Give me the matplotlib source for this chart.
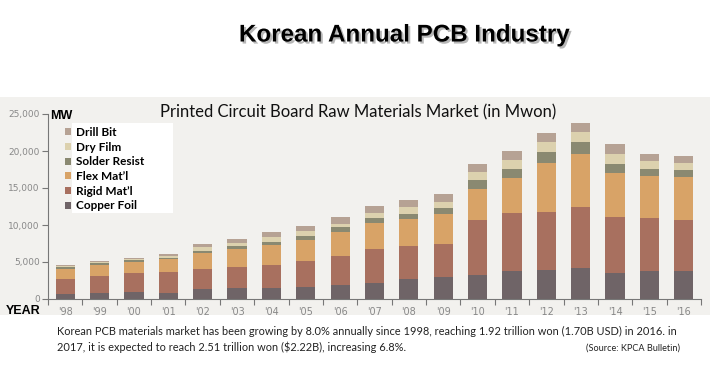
import matplotlib
matplotlib.use("Agg")
import matplotlib.pyplot as plt
import matplotlib.patheffects as pe
from matplotlib.patches import Rectangle, Patch
from matplotlib.ticker import FuncFormatter, FixedLocator
import numpy as np

years = ["'98", "'99", "'00", "'01", "'02", "'03", "'04", "'05", "'06", "'07",
         "'08", "'09", "'10", "'11", "'12", "'13", "'14", "'15", "'16"]
copper_foil = [680, 770, 910, 860, 1310, 1500, 1500, 1630, 1900, 2220, 2720, 3040, 3220, 3720, 3940, 4170, 3580, 3810, 3810]
rigid_mat = [2080, 2400, 2580, 2850, 2720, 2760, 3080, 3530, 3940, 4530, 4390, 4440, 7520, 7840, 7840, 8200, 7520, 7070, 6930]
flex_mat = [1270, 1400, 1450, 1630, 2170, 2490, 2720, 2850, 3260, 3530, 3760, 3940, 4170, 4760, 6660, 7290, 5980, 5750, 5710]
solder_resist = [230, 230, 270, 230, 320, 360, 450, 540, 590, 680, 680, 820, 1130, 1220, 1450, 1500, 1220, 1000, 950]
dry_film = [180, 180, 180, 230, 450, 450, 680, 680, 500, 680, 910, 910, 1130, 1270, 1270, 1360, 1360, 1040, 950]
drill_bit = [180, 180, 180, 270, 450, 590, 590, 680, 910, 910, 910, 1040, 1130, 1220, 1270, 1220, 1220, 950, 1000]

series_names = ["Copper Foil", "Rigid Mat\u2019l", "Flex Mat\u2019l", "Solder Resist", "Dry Film", "Drill Bit"]
series_vals = [copper_foil, rigid_mat, flex_mat, solder_resist, dry_film, drill_bit]
colors = ["#6f6467", "#a8705f", "#d8a367", "#8a8971", "#dcd1ae", "#b6a294"]

W, H = 710, 387
fig = plt.figure(figsize=(W / 100, H / 100), dpi=100)
fig.patch.set_facecolor("white")

def fx(px):
    return px / W

def fy(py):
    return 1 - py / H

# scanned panel background
fig.patches.append(Rectangle((0, fy(315)), 1, (315 - 97) / H, transform=fig.transFigure,
                             facecolor="#f2f1ee", edgecolor="none", zorder=-10))

ax = fig.add_axes([fx(48), fy(299), fx(701) - fx(48), (299 - 114) / H])
ax.set_facecolor("none")
ax.set_zorder(1)

x = np.arange(len(years))
bottom = np.zeros(len(years))
handles = []
for name, vals, c in zip(series_names, series_vals, colors):
    v = np.array(vals, dtype=float)
    ax.bar(x, v, bottom=bottom, width=0.56, color=c, edgecolor="none", zorder=2)
    bottom += v
    handles.append(Patch(facecolor=c, edgecolor="none", label=name))

ax.set_xlim(-0.5, 18.5)
ax.set_ylim(0, 25000)
ax.set_yticks([0, 5000, 10000, 15000, 20000, 25000])
ax.yaxis.set_major_formatter(FuncFormatter(lambda v, p: f"{int(v):,}"))
ax.set_xticks(x)
ax.set_xticklabels(years)
ax.xaxis.set_minor_locator(FixedLocator(np.arange(-0.5, 18.6, 1.0)))
ax.tick_params(axis="x", which="major", length=0, pad=6, labelsize=7, labelcolor="#888888")
ax.tick_params(axis="x", which="minor", length=4, color="#777777", width=0.8, direction="out")
ax.tick_params(axis="y", length=4, color="#777777", width=0.8, labelsize=6.5, labelcolor="#888888", pad=2)
for s in ["top", "right"]:
    ax.spines[s].set_visible(False)
for s in ["left", "bottom"]:
    ax.spines[s].set_color("#777777")
    ax.spines[s].set_linewidth(0.8)

# white box behind legend labels
fig.patches.append(Rectangle((fx(72), fy(213)), fx(173) - fx(72), (213 - 123) / H,
                             transform=fig.transFigure, facecolor="white", edgecolor="none", zorder=3))

leg = fig.legend(handles[::-1], [h.get_label() for h in handles[::-1]],
                 loc="upper left", bbox_to_anchor=(fx(64.5), fy(127)),
                 frameon=False, handlelength=0.55, handleheight=0.55, handletextpad=0.45,
                 labelspacing=0.31, borderpad=0.0, borderaxespad=0,
                 prop={"family": "Lato", "weight": "bold", "size": 8.5})
leg.set_zorder(5)

# titles and labels
fig.text(fx(404), fy(35), "Korean Annual PCB Industry", ha="center", va="center",
         fontsize=17.4, fontweight="bold", family="Liberation Sans",
         path_effects=[pe.SimplePatchShadow(offset=(1.5, -1.5), shadow_rgbFace="#888888", alpha=0.6), pe.Normal()])
fig.text(fx(358), fy(112), "Printed Circuit Board Raw Materials Market (in Mwon)", ha="center", va="center",
         fontsize=12, family="Lato", color="#111111", zorder=6)
fig.text(fx(50), fy(116), "MW", ha="left", va="center", fontsize=9, fontweight="bold",
         family="Liberation Sans", zorder=6)
fig.text(fx(40), fy(310.5), "YEAR", ha="right", va="center", fontsize=9, fontweight="bold",
         family="Liberation Sans", zorder=6)

fig.text(fx(57), fy(331), "Korean PCB materials market has been growing by 8.0% annually since 1998, reaching 1.92 trillion won (1.70B USD) in 2016. in",
         ha="left", va="center", fontsize=7.95, family="Lato", color="#222222")
fig.text(fx(57), fy(347), "2017, it is expected to reach 2.51 trillion won ($2.22B), increasing 6.8%.",
         ha="left", va="center", fontsize=7.95, family="Lato", color="#222222")
fig.text(fx(680), fy(348), "(Source: KPCA Bulletin)", ha="right", va="center", fontsize=6.6,
         family="Lato", color="#222222")

fig.savefig("out.png", dpi=100)
